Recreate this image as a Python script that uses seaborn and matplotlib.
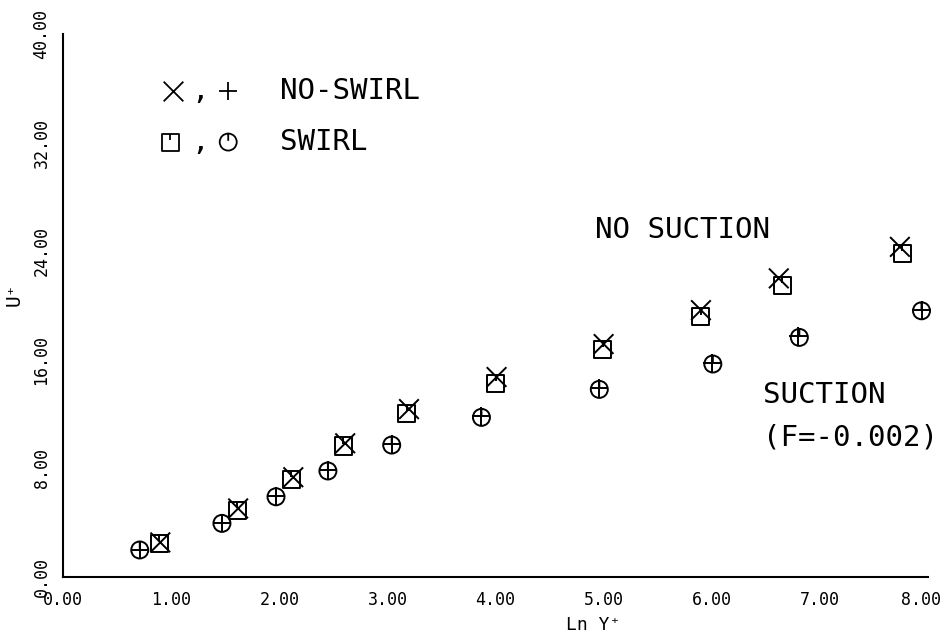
import numpy as np
import pandas as pd
import matplotlib
matplotlib.use("Agg")
import matplotlib.pyplot as plt
import matplotlib.transforms as mtransforms
from matplotlib.path import Path
import seaborn as sns

# Velocity profiles U+ versus ln(y+)
# no suction, with swirl (squares)
ns_swirl_x = [0.89, 1.61, 2.11, 2.59, 3.18, 4.00, 4.99, 5.90, 6.65, 7.76]
ns_swirl_y = [2.48, 4.93, 7.19, 9.65, 12.08, 14.29, 16.79, 19.17, 21.50, 23.86]
# no suction, no swirl (crosses)
ns_noswirl_x = [0.90, 1.62, 2.13, 2.61, 3.20, 4.01, 5.00, 5.90, 6.62, 7.74]
ns_noswirl_y = [2.55, 5.05, 7.35, 9.85, 12.37, 14.73, 17.16, 19.66, 22.00, 24.32]
# suction F=-0.002, with swirl (circles)
s_swirl_x = [0.71, 1.47, 1.97, 2.45, 3.04, 3.87, 4.96, 6.01, 6.81, 7.94]
s_swirl_y = [1.99, 3.95, 5.91, 7.81, 9.72, 11.76, 13.82, 15.69, 17.65, 19.61]
# suction F=-0.002, no swirl (plus signs)
s_noswirl_x = [0.71, 1.47, 1.97, 2.45, 3.04, 3.87, 4.96, 6.00, 6.80, 7.94]
s_noswirl_y = [2.02, 3.98, 5.95, 7.86, 9.82, 11.84, 13.92, 15.78, 17.74, 19.66]

x_ticks = [0, 1, 2, 3, 4, 5, 6, 7, 8]
y_ticks = [0, 8, 16, 24, 32, 40]

sns.set_theme(style="white")
plt.rcParams['font.family'] = ['DejaVu Sans Mono', 'DejaVu Sans']
plt.rcParams.update({"text.color": "black", "axes.labelcolor": "black",
                     "xtick.color": "black", "ytick.color": "black"})

# open square / circle with a short stroke from the top edge
M, L, C = Path.MOVETO, Path.LINETO, Path.CLOSEPOLY
square_tick = Path([(-1, -1), (1, -1), (1, 1), (-1, 1), (-1, -1), (0, 1), (0, 0.25)],
                   [M, L, L, L, C, M, L])
circ = Path.unit_circle()
circle_tick = Path(np.vstack([circ.vertices, [(0, 1), (0, 0.15)]]),
                   np.concatenate([circ.codes, [M, L]]))

fig = plt.figure(figsize=(9.46, 6.35), dpi=100)
ax = fig.add_axes([63 / 946, 58 / 635, 865 / 946, 543 / 635])

series = [
    (ns_swirl_x, ns_swirl_y, square_tick, 150),
    (ns_noswirl_x, ns_noswirl_y, "x", 200),
    (s_swirl_x, s_swirl_y, circle_tick, 150),
    (s_noswirl_x, s_noswirl_y, "+", 170),
]
for xs, ys, mk, sz in series:
    df = pd.DataFrame({"lny": xs, "u": ys})
    sns.scatterplot(data=df, x="lny", y="u", marker=mk, s=sz, color="black",
                    linewidth=1.4, ax=ax, clip_on=False, legend=False)
for coll in ax.collections:
    coll.set_facecolor("none")
    coll.set_edgecolor("black")
    coll.set_linewidth(1.4)

ax.set_xlim(0, 8)
ax.set_ylim(0, 40)
ax.set_xticks(x_ticks)
ax.set_xticklabels([f"{v:.2f}" for v in x_ticks])
ax.set_yticks(y_ticks)
ax.set_yticklabels([f"{v:.2f}" for v in y_ticks], rotation=90, va="center")
ax.tick_params(axis="both", direction="out", length=5, width=1.2, colors="black",
               labelsize=12)
ax.tick_params(axis="x", pad=5)
ax.tick_params(axis="y", pad=4)
for side in ("top", "right"):
    ax.spines[side].set_visible(False)
for side in ("left", "bottom"):
    ax.spines[side].set_color("black")
    ax.spines[side].set_linewidth(1.5)

# nudge the last x label so it stays inside the figure edge
last = ax.get_xticklabels()[-1]
last.set_transform(last.get_transform() +
                   mtransforms.ScaledTranslation(-5 / 72, 0, fig.dpi_scale_trans))

ax.set_xlabel("Ln Y\u207a", fontsize=13)
ax.xaxis.set_label_coords(0.613, -0.072)
ax.set_ylabel("U\u207a", fontsize=14)
ax.yaxis.set_label_coords(-0.045, 0.52)

# legend drawn as symbols plus text
ax.scatter([0.127], [0.895], marker="x", s=200, color="black", linewidth=1.3,
           transform=ax.transAxes, clip_on=False)
ax.scatter([0.191], [0.895], marker="+", s=170, color="black", linewidth=1.3,
           transform=ax.transAxes, clip_on=False)
ax.scatter([0.124], [0.801], marker=square_tick, s=150, facecolor="none",
           edgecolor="black", linewidth=1.3, transform=ax.transAxes, clip_on=False)
ax.scatter([0.191], [0.801], marker=circle_tick, s=150, facecolor="none",
           edgecolor="black", linewidth=1.3, transform=ax.transAxes, clip_on=False)
for yy in (0.895, 0.801):
    ax.text(0.158, yy, ",", transform=ax.transAxes, fontsize=21, va="center", ha="center")
ax.text(0.251, 0.895, "NO-SWIRL", transform=ax.transAxes, fontsize=21, va="center")
ax.text(0.251, 0.801, "SWIRL", transform=ax.transAxes, fontsize=21, va="center")

ax.text(4.92, 25.55, "NO SUCTION", fontsize=21, va="center", ha="left")
ax.text(6.47, 13.4, "SUCTION", fontsize=21, va="center", ha="left")
ax.text(6.47, 10.3, "(F=-0.002)", fontsize=21, va="center", ha="left")

fig.savefig("out.png", dpi=100, facecolor="white")
